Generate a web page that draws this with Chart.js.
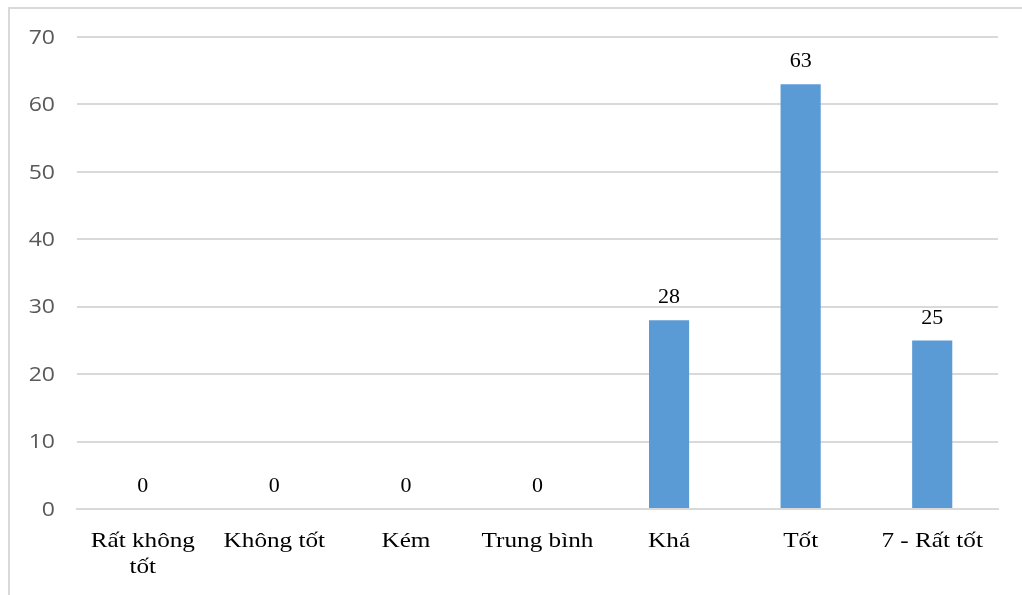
<!DOCTYPE html>
<html>
<head>
<meta charset="utf-8">
<script src="https://cdn.jsdelivr.net/npm/chart.js@4"></script>
<style>
  html, body { margin: 0; padding: 0; background: #fff; overflow: hidden; }
  .frame { position: absolute; left: 8px; top: 7px; width: 1100px; height: 700px; border: 2px solid #d9d9d9; }
  .wrap { position: absolute; left: 0; top: 0; width: 1022px; height: 595px; }
</style>
</head>
<body>
<div class="frame"></div>
<div class="wrap"><canvas id="graph01" width="1022" height="595"></canvas></div>
<script>
const categorias = [['Rất không', 'tốt'], 'Không tốt', 'Kém', 'Trung bình', 'Khá', 'Tốt', '7 - Rất tốt']
const valores = [0, 0, 0, 0, 28, 63, 25]
const yMax = 70
const yStep = 10

const serif = '"Liberation Serif", "Times New Roman", serif'
const sans = '"Open Sans", "Liberation Sans", sans-serif'

// texto um pouco esticado na horizontal, como na imagem original
function texto(ctx, str, x, y, sx, align) {
  ctx.save()
  ctx.translate(x, y)
  ctx.scale(sx, 1)
  ctx.textAlign = align
  ctx.fillText(str, 0, 0)
  ctx.restore()
}

// eixos e rótulos de valor
const rotulos = {
  id: 'rotulos',
  afterDraw(chart) {
    const ctx = chart.ctx
    const xs = chart.scales.x
    const ys = chart.scales.y
    const meta = chart.getDatasetMeta(0)
    ctx.save()
    ctx.textBaseline = 'middle'

    ctx.font = '20px ' + sans
    ctx.fillStyle = '#595959'
    ys.ticks.forEach(t => {
      texto(ctx, String(t.value), 55, ys.getPixelForValue(t.value) + 1, 1.15, 'right')
    })

    ctx.font = '21px ' + serif
    ctx.fillStyle = '#000'
    categorias.forEach((c, i) => {
      const linhas = Array.isArray(c) ? c : [c]
      const x = xs.getPixelForTick(i)
      linhas.forEach((l, j) => texto(ctx, l, x, 541 + j * 26, 1.2, 'center'))
    })

    ctx.font = '20px ' + serif
    meta.data.forEach((bar, i) => {
      texto(ctx, String(valores[i]), bar.x, bar.y - 22, 1.1, 'center')
    })
    ctx.restore()
  }
}

const graf = document.getElementById('graph01')

new Chart(graf, {
  type: 'bar',
  data: {
    labels: categorias,
    datasets: [{
      data: valores,
      backgroundColor: '#5B9BD5',
      borderWidth: 0,
      categoryPercentage: 1,
      barPercentage: 0.305
    }]
  },
  options: {
    responsive: false,
    animation: false,
    layout: {
      padding: { left: 9, right: 24, top: 37, bottom: 0 }
    },
    plugins: {
      legend: { display: false },
      tooltip: { enabled: false }
    },
    scales: {
      x: {
        grid: { display: false, drawTicks: false },
        border: { color: '#d9d9d9', width: 2 },
        ticks: { display: false },
        afterFit: s => { s.height = 86 }
      },
      y: {
        min: 0,
        max: yMax,
        ticks: { stepSize: yStep, display: false },
        grid: { color: '#d9d9d9', lineWidth: 2, drawTicks: false },
        border: { display: false },
        afterFit: s => { s.width = 68 }
      }
    }
  },
  plugins: [rotulos]
})
</script>
</body>
</html>
